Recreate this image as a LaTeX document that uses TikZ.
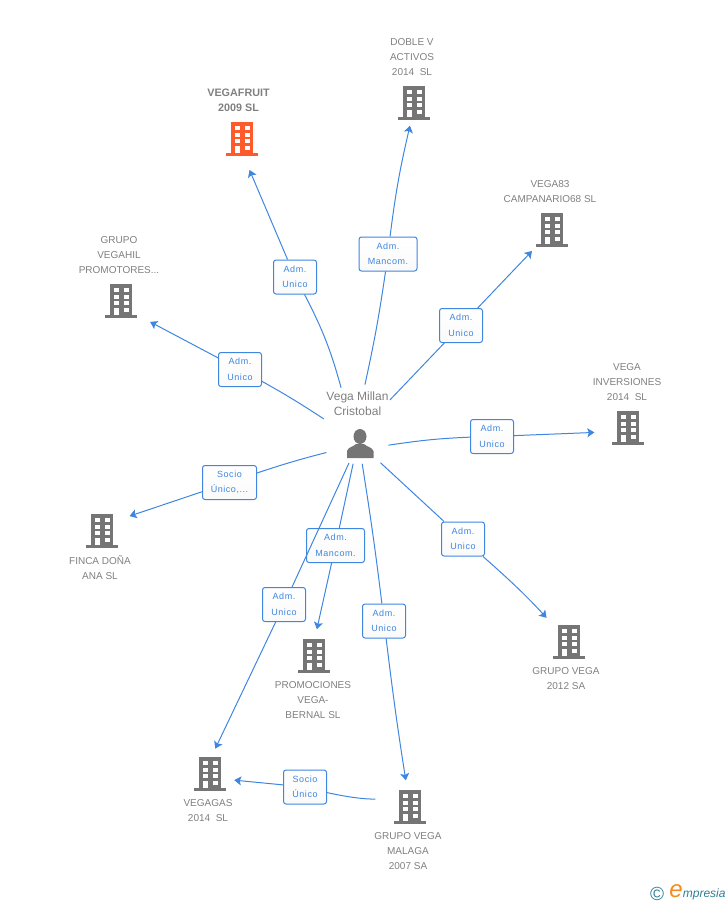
\documentclass[tikz,border=0pt]{standalone}
\usepackage{fontspec}
\setmainfont{Liberation Sans}
\usetikzlibrary{arrows.meta}
\definecolor{linkblue}{HTML}{3F86E0}
\definecolor{iconfill}{HTML}{757575}
\definecolor{namegrey}{HTML}{808080}
\definecolor{firmred}{HTML}{FF5A2C}
\definecolor{logoteal}{HTML}{2F7F96}
\definecolor{logoorange}{HTML}{F58A1F}
\tikzstyle{iconspot} = [circle,minimum size=46pt,inner sep=0pt,outer sep=0pt]
\tikzstyle{firmname} = [align=center,text=namegrey,inner sep=0pt,font=\fontsize{10}{15}\selectfont]
\tikzstyle{rolebox} = [draw=linkblue,line width=1pt,rounded corners=2.5pt,top color=white,bottom color=black!2,
    text=linkblue,align=center,inner sep=0pt,minimum height=34pt,
    font=\fontsize{9}{15.5}\selectfont\addfontfeatures{LetterSpace=6}]
\tikzstyle{link} = [draw=linkblue,line width=1pt]
\tikzstyle{arrowlink} = [link,-{Stealth[length=7pt,width=9pt,inset=1.5pt]}]
\newcommand{\firmicon}[3]{
    \node(#2) at (#1) [iconspot] {};
    \begin{scope}[shift={(#1)}]
        \fill[#3] (-11,-17) rectangle (11,14);
        \fill[#3] (-16,14) rectangle (16,17);
        \foreach \wy in {-13,-6.5,0.2} {
            \fill[white] (-7,\wy) rectangle (-2.2,\wy+4);
            \fill[white] (3,\wy) rectangle (7.6,\wy+4);
        }
        \fill[white] (-7,7) rectangle (-2.2,14);
        \fill[white] (3,7) rectangle (7.6,11);
    \end{scope}
}
\begin{document}
\begin{tikzpicture}[x=1pt,y=-1pt]
	\useasboundingbox (0,0) rectangle (728,905);

	% companies
	\firmicon{242,139}{fruit}{firmred}
	\firmicon{414,103}{doble}{iconfill}
	\firmicon{552,230}{campa}{iconfill}
	\firmicon{121,301}{hil}{iconfill}
	\firmicon{628,428}{inver}{iconfill}
	\firmicon{102,531}{finca}{iconfill}
	\firmicon{569,642}{grupo}{iconfill}
	\firmicon{314,656}{promo}{iconfill}
	\firmicon{210,774}{gas}{iconfill}
	\firmicon{410,807}{malaga}{iconfill}

	\node(fruitname) at (238.5,100.5) [firmname,font=\fontsize{10.8}{15}\selectfont\bfseries] {VEGAFRUIT\\2009 SL};
	\node(doblename) at (412,57) [firmname] {DOBLE V\\ACTIVOS\\2014~ SL};
	\node(camponame) at (550,191.5) [firmname] {VEGA83\\CAMPANARIO68 SL};
	\node(hilname) at (119,255) [firmname] {GRUPO\\VEGAHIL\\PROMOTORES...};
	\node(invername) at (627,382) [firmname] {VEGA\\INVERSIONES\\2014~ SL};
	\node(fincaname) at (100,567.5) [firmname] {FINCA DOÑA\\ANA SL};
	\node(gruponame) at (566,678.5) [firmname] {GRUPO VEGA\\2012 SA};
	\node(promoname) at (313,700) [firmname] {PROMOCIONES\\VEGA-\\BERNAL SL};
	\node(gasname) at (208,810.5) [firmname] {VEGAGAS\\2014~ SL};
	\node(malaganame) at (408,851) [firmname] {GRUPO VEGA\\MALAGA\\2007 SA};

	% person
	\node(hub) at (358,424) [circle,minimum size=80pt,inner sep=0pt,outer sep=0pt] {};
	\node(personname) at (357.5,403.5) [align=center,text=namegrey,inner sep=0pt,font=\fontsize{12}{15.5}\selectfont] {Vega Millan\\Cristobal};
	\fill[iconfill] (360,436.5) ellipse [x radius=6.5,y radius=7.5];
	\fill[iconfill] (347,458) -- (347,451) .. controls (348,447) and (353,447) .. (356,444)
		-- (364,444) .. controls (367,447) and (372,447) .. (373.5,451) -- (373.5,458) -- cycle;

	% roles
	\node(rolefruit) at (295,277) [rolebox,minimum width=43pt] {Adm.\\Unico};
	\node(roledoble) at (388,254) [rolebox,minimum width=58pt] {Adm.\\Mancom.};
	\node(rolecampa) at (461,325.5) [rolebox,minimum width=43pt] {Adm.\\Unico};
	\node(rolehil) at (240,369.5) [rolebox,minimum width=43pt] {Adm.\\Unico};
	\node(roleinver) at (492,436.5) [rolebox,minimum width=43pt] {Adm.\\Unico};
	\node(rolefinca) at (229.5,482.5) [rolebox,minimum width=54pt] {Socio\\Único,...};
	\node(rolegrupo) at (463,539) [rolebox,minimum width=43pt] {Adm.\\Unico};
	\node(rolepromo) at (335.5,545.5) [rolebox,minimum width=58pt] {Adm.\\Mancom.};
	\node(rolegas) at (284,604.5) [rolebox,minimum width=43pt] {Adm.\\Unico};
	\node(rolemalaga) at (384,621) [rolebox,minimum width=43pt] {Adm.\\Unico};
	\node(rolesocio) at (305,787) [rolebox,minimum width=43pt] {Socio\\Único};

	% links
	\draw[link] (hub.115) to[bend right=6] (rolefruit);
	\draw[arrowlink,shorten >=9pt] (rolefruit) to (fruit.280);
	\draw[link] (hub.80) to[bend right=2] (roledoble);
	\draw[arrowlink] (roledoble) to[bend left=3] (doble.260);
	\draw[link] (hub.37) to (rolecampa);
	\draw[arrowlink,shorten >=6pt] (rolecampa) to (campa);
	\draw[link,shorten <=-6pt] (hub.168) to[bend right=2] (rolehil);
	\draw[arrowlink,shorten >=13pt] (rolehil) to (hil.-40);
	\draw[link,shorten <=-4pt] (hub.-31) to[bend left=3] (roleinver);
	\draw[arrowlink,shorten >=11pt] (roleinver) to (inver.190);
	\draw[link,shorten <=3pt] (hub.224) to[bend right=2] (rolefinca);
	\draw[arrowlink,shorten >=8.5pt] (rolefinca) to (finca.32);
	\draw[link,shorten <=5pt] (hub.-62) to (rolegrupo);
	\draw[arrowlink,shorten >=10pt] (rolegrupo) to[bend left=3] (grupo);
	\draw[link] (hub.-97) to (rolepromo);
	\draw[arrowlink,shorten >=4pt] (rolepromo) to (promo.85);
	\draw[link] (hub.-103) to (rolegas);
	\draw[arrowlink,shorten >=3pt] (rolegas) to (gas.80);
	\draw[link] (hub.-84) to[bend left=1] (rolemalaga);
	\draw[arrowlink,shorten >=4pt] (rolemalaga) to[bend right=1] (malaga);
	\draw[link,shorten <=13pt] (malaga.160) to[bend left=6] (rolesocio);
	\draw[arrowlink,shorten >=2pt] (rolesocio) to (gas.-15);

	% logo
	\node(logomark) at (657,894) [text=logoteal,inner sep=0pt,font=\fontsize{19}{19}\selectfont] {©};
	\node(logotext) at (697.5,892) [inner sep=0pt,font=\fontsize{12}{14}\selectfont\itshape] {\textcolor{logoorange}{\fontsize{24}{24}\selectfont e}\textcolor{logoteal}{mpresia}};
\end{tikzpicture}
\end{document}
